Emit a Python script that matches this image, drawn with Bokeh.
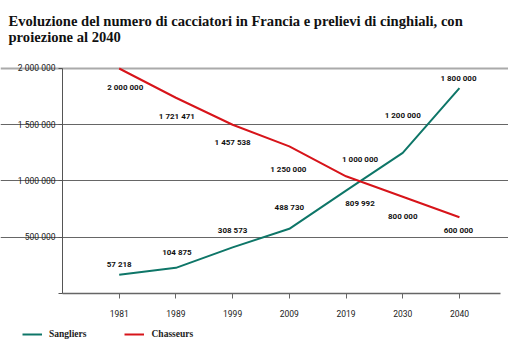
from bokeh.plotting import figure
from bokeh.models import (ColumnDataSource, FixedTicker, Legend, LegendItem, Range1d, Label, Grid)
from bokeh.embed import file_html
from bokeh.resources import INLINE

years = ["1981", "1989", "1999", "2009", "2019", "2030", "2040"]
sangliers = [166000, 228000, 410000, 575000, 915000, 1250000, 1825000]
chasseurs = [2000000, 1740000, 1500000, 1308000, 1042000, 860000, 678000]
sangliers_labels = ["57 218", "104 875", "308 573", "488 730", "1 000 000", "1 200 000", "1 800 000"]
chasseurs_labels = ["2 000 000", "1 721 471", "1 457 538", "1 250 000", "809 992", "800 000", "600 000"]
y_ticks = [0, 500000, 1000000, 1500000, 2000000]
y_tick_labels = ["", "500 000", "1 000 000", "1 500 000", "2 000 000"]
title_lines = ["Evoluzione del numero di cacciatori in Francia e prelievi di cinghiali, con",
               "proiezione al 2040"]

# label placement offsets (screen pixels)
s_dx = [0, 1, 0, 0, 14, 0, -1]
s_dy = [-10, -15, -17, -21, -31, -37, -10]
c_dx = [6, 1, 0, -1, 14, 0, -1]
c_dy = [19, 19, 18, 23, 27, 20, 13]

GREEN = "#0e7668"
RED = "#d7141a"
SANS = "Roboto"

W, H = 508, 356
xs = list(range(len(years)))
src_s = ColumnDataSource(dict(x=xs, y=sangliers, t=sangliers_labels, dx=s_dx, dy=s_dy))
src_c = ColumnDataSource(dict(x=xs, y=chasseurs, t=chasseurs_labels, dx=c_dx, dy=c_dy))

p = figure(width=W, height=H, output_backend="svg", toolbar_location=None,
           x_range=Range1d(-2.093, 6.865), y_range=Range1d(-560000, 2604444),
           min_border=0)
p.outline_line_color = None
p.background_fill_color = "white"

for i, line in enumerate(title_lines):
    p.add_layout(Label(x=8, y=H - 20 - 16 * i, x_units="screen", y_units="screen",
                       text=line, text_font="Liberation Serif", text_font_style="bold",
                       text_font_size="14.6px", text_color="#111111",
                       text_align="left", text_baseline="alphabetic"))

p.xgrid.grid_line_color = None
p.ygrid.ticker = FixedTicker(ticks=y_ticks[1:4])
p.ygrid.bounds = (-1, 6.723)
p.ygrid.grid_line_color = "#666666"
p.ygrid.grid_line_width = 1
top_grid = Grid(dimension=1, ticker=FixedTicker(ticks=y_ticks[4:]), bounds=(-1, 6.723),
                grid_line_color="#aaaaaa", grid_line_width=2)
p.add_layout(top_grid)

lr_s = p.line("x", "y", source=src_s, line_color=GREEN, line_width=2)
lr_c = p.line("x", "y", source=src_c, line_color=RED, line_width=2)

for src in (src_s, src_c):
    p.text("x", "y", text="t", x_offset="dx", y_offset="dy", source=src,
           text_align="center", text_baseline="middle", text_font_size="8px",
           text_font={"value": SANS}, text_font_style="bold", text_color="#111111")

p.xaxis.fixed_location = 0
p.xaxis.bounds = (-1, 6.723)
p.xaxis.ticker = FixedTicker(ticks=xs)
p.xaxis.major_label_overrides = {i: y for i, y in enumerate(years)}
p.xaxis.major_tick_out = 5
p.xaxis.major_tick_in = 0
p.xaxis.minor_tick_line_color = None
p.xaxis.major_label_standoff = 11
p.xaxis.axis_line_color = "#666666"
p.xaxis.axis_line_width = 1.5
p.xaxis.major_tick_line_color = "#666666"
p.xaxis.major_label_text_font = SANS
p.xaxis.major_label_text_font_size = "8.5px"
p.xaxis.major_label_text_color = "#222222"

p.yaxis.fixed_location = -1
p.yaxis.bounds = (0, 2000000)
p.yaxis.ticker = FixedTicker(ticks=y_ticks)
p.yaxis.major_label_overrides = {v: l for v, l in zip(y_ticks, y_tick_labels)}
p.yaxis.major_tick_out = 4
p.yaxis.major_tick_in = 0
p.yaxis.minor_tick_line_color = None
p.yaxis.major_label_standoff = 3
p.yaxis.axis_line_color = "#555555"
p.yaxis.major_tick_line_color = "#555555"
p.yaxis.major_label_text_font = SANS
p.yaxis.major_label_text_font_size = "8.5px"
p.yaxis.major_label_text_color = "#222222"

legend = Legend(items=[LegendItem(label="Sangliers", renderers=[lr_s]),
                       LegendItem(label="Chasseurs", renderers=[lr_c])],
                orientation="horizontal", location=(22, 12),
                border_line_color=None, background_fill_alpha=0,
                padding=0, margin=0, spacing=38, glyph_width=20, label_standoff=7,
                label_text_font="Liberation Serif", label_text_font_style="bold",
                label_text_font_size="9.5px", label_text_color="#222222")
p.add_layout(legend, "center")

open("out.html", "w").write(file_html(p, INLINE))
